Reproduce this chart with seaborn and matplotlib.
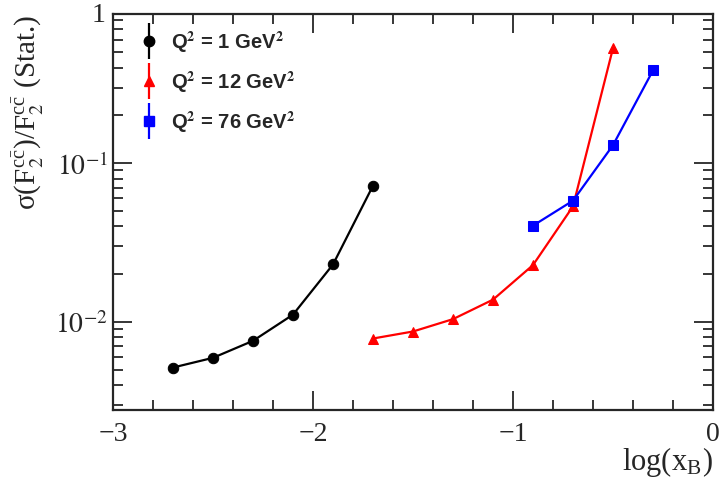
import numpy as np
import pandas as pd
import seaborn as sns
import matplotlib
matplotlib.use("Agg")
import matplotlib.pyplot as plt
from matplotlib.lines import Line2D
from matplotlib.ticker import FixedLocator, NullFormatter, MultipleLocator

# Data
x_q1 = [-2.7, -2.5, -2.3, -2.1, -1.9, -1.7]
y_q1 = [0.00515, 0.00593, 0.00759, 0.0111, 0.0230, 0.0722]
x_q12 = [-1.7, -1.5, -1.3, -1.1, -0.9, -0.7, -0.5]
y_q12 = [0.00785, 0.00869, 0.0104, 0.0138, 0.0228, 0.0535, 0.532]
x_q76 = [-0.9, -0.7, -0.5, -0.3]
y_q76 = [0.0404, 0.0581, 0.130, 0.385]
labels = [r"Q$^\mathbf{2}$ = 1 GeV$^\mathbf{2}$", r"Q$^\mathbf{2}$ = 12 GeV$^\mathbf{2}$", r"Q$^\mathbf{2}$ = 76 GeV$^\mathbf{2}$"]
xticks = [-3, -2, -1, 0]
xticklabels = ["\u22123", "\u22122", "\u22121", "0"]

sns.set_style("ticks")
plt.rcParams["font.family"] = ["Liberation Serif", "DejaVu Serif"]
plt.rcParams["mathtext.fontset"] = "stix"

fig = plt.figure(figsize=(7.22, 4.85), dpi=100)
ax = fig.add_axes([113/722, 1-411/485, 600/722, 396/485])

series = [
    (x_q1, y_q1, "black", "o", 7.5),
    (x_q12, y_q12, "red", "^", 7.5),
    (x_q76, y_q76, "blue", "s", 7.5),
]
for xs, ys, c, m, ms in series:
    df = pd.DataFrame({"x": xs, "y": ys})
    sns.lineplot(data=df, x="x", y="y", ax=ax, color=c, marker=m, markersize=ms,
                 markeredgecolor=c, linewidth=1.6, sort=False)

ax.set_yscale("log")
ax.set_xlim(-3, 0)
ax.set_ylim(0.00278, 0.873)

ax.xaxis.set_major_locator(FixedLocator(xticks))
ax.set_xticklabels(xticklabels)
ax.xaxis.set_minor_locator(MultipleLocator(0.2))
ax.set_yticks([0.01, 0.1])
ax.set_yticklabels([r"$10^{-2}$", r"$10^{-1}$"])
ax.yaxis.set_minor_locator(matplotlib.ticker.LogLocator(base=10, subs=np.arange(2, 10)))
ax.yaxis.set_minor_formatter(NullFormatter())
ax.text(-0.012, 1.0, "1", transform=ax.transAxes, ha="right", va="center", fontsize=20)

ax.tick_params(which="both", direction="in", top=True, right=True, width=1.3, labelsize=20)
ax.tick_params(which="major", length=14)
ax.tick_params(which="minor", length=7)
ax.tick_params(axis="x", pad=8)
for s in ax.spines.values():
    s.set_linewidth(1.6)

ax.set_xlabel(r"log(x$_\mathregular{B}$)", fontsize=22, loc="right")
ax.xaxis.set_label_coords(1.0, -0.085)
ax.set_ylabel("\u03c3(" + r"$\mathregular{F}_2^{\mathregular{c\bar{c}}}$)/$\mathregular{F}_2^{\mathregular{c\bar{c}}}$ (Stat.)",
              fontsize=21, loc="top")
ax.yaxis.set_label_coords(-0.112, 1.0)

handles = []
for xs, ys, c, m, ms in series:
    bar = Line2D([], [], color=c, marker="|", markersize=26, markeredgewidth=1.6, linestyle="none")
    mk = Line2D([], [], color=c, marker=m, markersize=ms, linestyle="none")
    handles.append((bar, mk))
leg = ax.legend(handles, labels, loc="upper left", bbox_to_anchor=(0.01, 1.008), frameon=False,
                prop={"family": "Liberation Sans", "weight": "bold", "size": 14.5},
                handlelength=1.2, labelspacing=0.72, handletextpad=0.5)

fig.savefig("out.png", dpi=100)
